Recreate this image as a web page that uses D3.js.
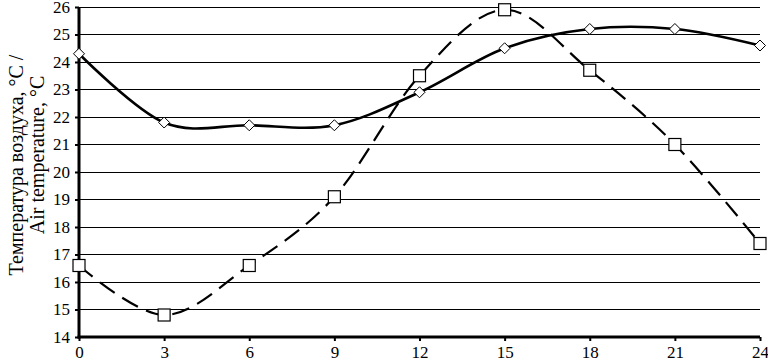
<!DOCTYPE html>
<html>
<head>
<meta charset="utf-8">
<script src="https://cdn.jsdelivr.net/npm/d3@7"></script>
<style>
  body { margin: 0; background: #fff; }
  svg text { font-family: "Liberation Serif", "Times New Roman", serif; fill: #000; }
</style>
</head>
<body>
<svg id="chart" width="768" height="363"></svg>
<script>
// hours of day
const hours = [0, 3, 6, 9, 12, 15, 18, 21, 24];
// solid line, diamond markers
const seriesA = [24.3, 21.8, 21.7, 21.7, 22.9, 24.5, 25.2, 25.2, 24.6];
// dashed line, square markers
const seriesB = [16.6, 14.8, 16.6, 19.1, 23.5, 25.9, 23.7, 21.0, 17.4];
const yTicks = [14, 15, 16, 17, 18, 19, 20, 21, 22, 23, 24, 25, 26];
const titleLines = ["Температура воздуха, °C /", "Air  temperature, °C"];

const MARGIN = { LEFT: 79, RIGHT: 8, TOP: 7, BOTTOM: 26 };
const W = 768, H = 363;

const svg = d3.select("#chart");

const x = d3.scaleLinear().domain([0, 24]).range([MARGIN.LEFT, W - MARGIN.RIGHT]);
const y = d3.scaleLinear().domain([14, 26]).range([H - MARGIN.BOTTOM, MARGIN.TOP]);

// horizontal gridlines
svg.append("g")
  .selectAll("line")
  .data(yTicks.filter((d) => d > 14))
  .join("line")
  .attr("x1", x(0))
  .attr("x2", x(24))
  .attr("y1", (d) => y(d))
  .attr("y2", (d) => y(d))
  .attr("stroke", "#000")
  .attr("stroke-width", 1)
  .attr("shape-rendering", "crispEdges");

// y axis
const yAxis = svg.append("g")
  .attr("transform", `translate(${x(0)},0)`)
  .call(d3.axisLeft(y).tickValues(yTicks).tickSize(4).tickPadding(5));
yAxis.select(".domain").attr("stroke-width", 3).attr("d", `M0,${y(14) + 1.5}V${y(26)}`);
yAxis.selectAll(".tick line").attr("stroke-width", 2);
yAxis.selectAll("text").style("font-size", "17px");

// x axis
const xAxis = svg.append("g")
  .attr("transform", `translate(0,${y(14)})`)
  .call(d3.axisBottom(x).tickValues(hours).tickSize(4).tickPadding(5));
xAxis.select(".domain").attr("stroke-width", 3).attr("d", `M${x(0) - 1.5},0H${x(24)}`);
xAxis.selectAll(".tick line").attr("stroke-width", 2);
xAxis.selectAll("text").style("font-size", "17px");

// axis title, two rotated lines (second one sits a bit higher, as in the source)
const title = svg.append("text")
  .attr("transform", `translate(23,${(y(14) + y(26)) / 2 - 7}) rotate(-90)`)
  .attr("text-anchor", "middle")
  .style("font-size", "20px");
titleLines.forEach((t, i) => {
  title.append("tspan")
    .attr("x", i === 0 ? 0 : 10)
    .attr("dy", i === 0 ? 0 : 21)
    .text(t);
});

const line = d3.line()
  .x((d, i) => x(hours[i]))
  .y((d) => y(d))
  .curve(d3.curveCatmullRom.alpha(0));

svg.append("path")
  .datum(seriesB)
  .attr("d", line)
  .attr("fill", "none")
  .attr("stroke", "#000")
  .attr("stroke-width", 2.2)
  .attr("stroke-dasharray", "18,9");

svg.append("path")
  .datum(seriesA)
  .attr("d", line)
  .attr("fill", "none")
  .attr("stroke", "#000")
  .attr("stroke-width", 2.6);

// square markers
const sq = 12;
svg.append("g")
  .selectAll("rect")
  .data(seriesB)
  .join("rect")
  .attr("x", (d, i) => x(hours[i]) - sq / 2)
  .attr("y", (d) => y(d) - sq / 2)
  .attr("width", sq)
  .attr("height", sq)
  .attr("fill", "#fff")
  .attr("stroke", "#000")
  .attr("stroke-width", 1.2);

// diamond markers
const dm = 5.5;
svg.append("g")
  .selectAll("path")
  .data(seriesA)
  .join("path")
  .attr("transform", (d, i) => `translate(${x(hours[i])},${y(d)})`)
  .attr("d", `M0,${-dm}L${dm},0L0,${dm}L${-dm},0Z`)
  .attr("fill", "#fff")
  .attr("stroke", "#000")
  .attr("stroke-width", 1);
</script>
</body>
</html>
